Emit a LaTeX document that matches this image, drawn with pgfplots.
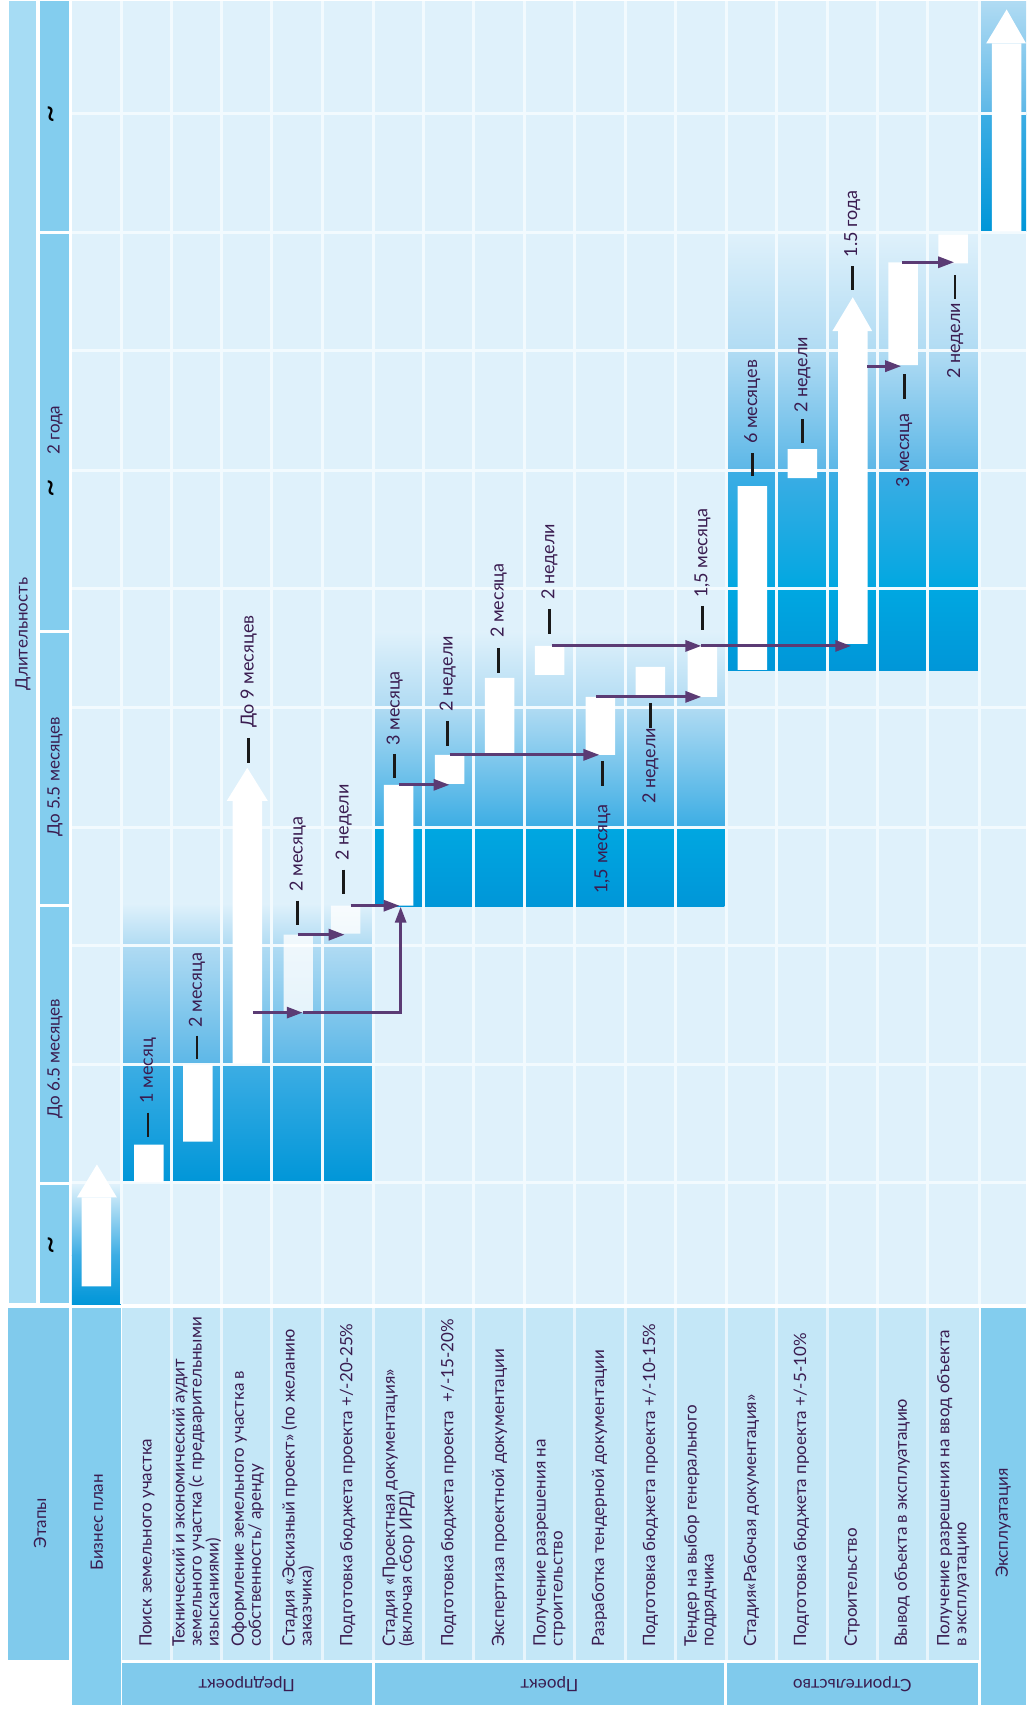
\documentclass[border=0pt]{standalone}
\usepackage{pgfplots}
\pgfplotsset{compat=1.18}
\usepackage{pgfplotstable}
\usepackage{fontspec}
\setmainfont{Lato}
\usetikzlibrary{arrows.meta}

\definecolor{gridbg}{RGB}{223,241,251}
\definecolor{gridln}{RGB}{242,250,254}
\definecolor{stripA}{RGB}{166,220,244}
\definecolor{stripB}{RGB}{131,205,238}
\definecolor{hdr}{RGB}{128,202,236}
\definecolor{stagecell}{RGB}{196,231,247}
\definecolor{dk}{RGB}{0,150,216}
\definecolor{dkm}{RGB}{0,167,225}
\definecolor{mdA}{RGB}{60,173,228}
\definecolor{mdB}{RGB}{92,183,231}
\definecolor{ltA}{RGB}{176,219,243}
\definecolor{txt}{RGB}{58,28,80}
\definecolor{arrc}{RGB}{91,59,116}

\pgfplotstableread{
x     top   hw   hs
96.5  1197  89   0
149   1144  38   0
198   1064  77   0
247.5 800   263  0
298.5 934   0    78
346   905   0    28
399   784   121  0
450   754   29   0
500   677   76   0
550   645   29   0
601   696   58   0
651   666   28   0
703   645   51   0
753   485   184  0
803   448   29   0
853.5 330   313  0
904   261   103  0
954   233   29   0
1007.5 42   188  0
}\bars

\pgfplotsset{base/.style={width=1027pt,height=1711pt,scale only axis,
  xmin=0,xmax=1027,ymin=0,ymax=1711,y dir=reverse,
  axis lines=none,ticks=none,clip=false,enlargelimits=false},
  flow/.style={color=arrc,line width=3pt,mark=none,solid,-{Triangle[length=16pt,width=11pt]}}}

\newcommand{\rect}[5]{\fill[#5] (axis cs:#1,#2) rectangle (axis cs:#3,#4);}
\newcommand{\grad}[6]{\shade[top color=#5,bottom color=#6] (axis cs:#1,#2) rectangle (axis cs:#3,#4);}
\newcommand{\gradm}[7]{\shade[top color=#5,middle color=#6,bottom color=#7] (axis cs:#1,#2) rectangle (axis cs:#3,#4);}
\newcommand{\stage}[2]{\node[rotate=90,anchor=west,align=left,inner sep=0pt,text=txt,
  font=\fontsize{17}{17}\selectfont] at (axis cs:#1,1647) {#2};}
\newcommand{\dur}[3]{\node[rotate=90,anchor=west,inner sep=0pt,text=txt,
  font=\fontsize{18}{20}\selectfont] at (axis cs:#1,#2) {#3};}
\newcommand{\dash}[3]{\draw[black!90,line width=2.6pt] (axis cs:#1,#2) -- (axis cs:#1,#3);}
\newcommand{\tld}[2]{\node[rotate=90,inner sep=0pt,font=\fontsize{32}{32}\selectfont] at (axis cs:#1,#2) {\char`\~};}

\begin{document}
\begin{tikzpicture}
% ---------------- background layer
\begin{axis}[base]
\path (axis cs:0,0) rectangle (axis cs:1027,1711);
% grid background
\rect{72}{0}{1027}{1304}{gridbg}
% Business plan cell
\grad{72}{1184}{121}{1255}{gridbg}{mdA}
\gradm{72}{1255}{121}{1304}{mdA}{dkm}{dk}
% Predproekt block
\gradm{122}{1064}{373}{1182}{mdA}{dkm}{dk}
\grad{122}{945}{373}{1064}{ltA}{mdB}
\grad{122}{903}{373}{945}{gridbg}{ltA}
% Proekt block
\grad{375}{827}{725}{906}{dkm}{dk}
\grad{375}{707}{725}{827}{ltA}{mdA}
\grad{375}{631}{725}{707}{gridbg}{ltA}
% Stroitelstvo block
\grad{728}{589}{979}{670}{dkm}{dk}
\grad{728}{469}{979}{589}{mdA}{dkm}
\grad{728}{351}{979}{469}{ltA}{mdB}
\grad{728}{232}{979}{351}{gridbg}{ltA}
% Ekspluatacija block
\gradm{982}{113}{1027}{230}{mdA}{dkm}{dk}
\grad{982}{0}{1027}{113}{ltA}{mdB}
% grid lines
\foreach \gx in {122,172,222,272,323,374,424,474,525,575,626,676,727,777,828,878,928,980}{
  \edef\tmp{\noexpand\draw[gridln,line width=3pt] (axis cs:\gx,0) -- (axis cs:\gx,1304);}\tmp}
\foreach \gy in {112,231,349,469,588,707,827,945,1064,1182}{
  \edef\tmp{\noexpand\draw[gridln,line width=3pt] (axis cs:72,\gy) -- (axis cs:1027,\gy);}\tmp}
% left strips
\rect{9}{0}{36}{1303}{stripA}
\rect{40}{0}{69}{230}{stripB}
\rect{40}{233}{69}{629}{stripB}
\rect{40}{632}{69}{903}{stripB}
\rect{40}{906}{69}{1182}{stripB}
\rect{40}{1185}{69}{1303}{stripB}
\node[rotate=90,text=txt,inner sep=0pt,font=\fontsize{17}{17}\selectfont] at (axis cs:23,633) {Длительность};
\node[rotate=90,text=txt,inner sep=0pt,font=\fontsize{17}{17}\selectfont] at (axis cs:55,429) {2 года};
\node[rotate=90,text=txt,inner sep=0pt,font=\fontsize{17}{17}\selectfont] at (axis cs:55,776) {До 5.5 месяцев};
\node[rotate=90,text=txt,inner sep=0pt,font=\fontsize{17}{17}\selectfont] at (axis cs:55,1058) {До 6.5 месяцев};
\tld{54}{113}
\tld{54}{487}
\tld{54}{1245}
% header
\rect{8}{1308}{69}{1660}{hdr}
\rect{72}{1308}{121}{1705}{stripB}
\rect{122}{1308}{980}{1660}{stagecell}
\foreach \gx in {172,222,272,323,374,424,474,525,575,626,676,727,777,828,878,928}{
  \edef\tmp{\noexpand\draw[white!60!stagecell,line width=3pt] (axis cs:\gx,1308) -- (axis cs:\gx,1660);}\tmp}
\rect{122}{1663}{372}{1705}{hdr}
\rect{375}{1663}{725}{1705}{hdr}
\rect{728}{1663}{979}{1705}{hdr}
\rect{982}{1308}{1027}{1705}{stripB}
\node[rotate=90,text=txt,inner sep=0pt,font=\fontsize{17}{17}\selectfont] at (axis cs:40,1523) {Этапы};
\node[rotate=90,text=txt,inner sep=0pt,font=\fontsize{17}{17}\selectfont] at (axis cs:97,1522) {Бизнес план};
\node[rotate=90,text=txt,inner sep=0pt,font=\fontsize{17}{17}\selectfont] at (axis cs:1004,1523) {Эксплуатация};
\node[rotate=180,text=txt,inner sep=0pt,font=\fontsize{17}{17}\selectfont] at (axis cs:247,1684) {Предпроект};
\node[rotate=180,text=txt,inner sep=0pt,font=\fontsize{17}{17}\selectfont] at (axis cs:550,1684) {Проект};
\node[rotate=180,text=txt,inner sep=0pt,font=\fontsize{17}{17}\selectfont] at (axis cs:853,1684) {Строительство};
\stage{147}{Поиск земельного участка}
\stage{197}{Технический и экономический аудит\\земельного участка (с предварительными\\изысканиями)}
\stage{248}{Оформление земельного участка в\\собственность/ аренду}
\stage{298}{Стадия «Эскизный проект» (по желанию\\заказчика)}
\stage{348}{Подготовка бюджета проекта +/-20-25\%}
\stage{399}{Стадия «Проектная документация»\\(включая сбор ИРД)}
\stage{449}{Подготовка бюджета проекта \ +/-15-20\%}
\stage{500}{Экспертиза проектной документации}
\stage{550}{Получение разрешения на\\строительство}
\stage{600}{Разработка тендерной документации}
\stage{651}{Подготовка бюджета проекта +/-10-15\%}
\stage{701}{Тендер на выбор генерального\\подрядчика}
\stage{752}{Стадия«Рабочая документация»}
\stage{802}{Подготовка бюджета проекта +/-5-10\%}
\stage{853}{Строительство}
\stage{903}{Вывод объекта в эксплуатацию}
\stage{954}{Получение разрешения на ввод объекта\\в эксплуатацию}
\end{axis}
% ---------------- bars layer
\begin{axis}[base, ybar stacked, bar width=29.5]
\addplot[draw=none,fill=none] table[x=x,y=top]{\bars};
\addplot[draw=none,fill=white] table[x=x,y=hw]{\bars};
\addplot[draw=none,fill=white,fill opacity=0.8] table[x=x,y=hs]{\bars};
\end{axis}
% ---------------- arrows and labels layer
\begin{axis}[base]
% white arrow heads
\addplot[draw=none,fill=white,mark=none] coordinates {(77,1197) (117,1197) (97,1164)};
\addplot[draw=none,fill=white,mark=none] coordinates {(227,800) (268,800) (247.5,767)};
\addplot[draw=none,fill=white,mark=none] coordinates {(833,330) (873,330) (853.5,296)};
\addplot[draw=none,fill=white,mark=none] coordinates {(987,42) (1027,42) (1007.5,8)};
% purple flow arrows
\addplot[flow] coordinates {(253,1012) (303,1012)};
\addplot[flow] coordinates {(303,1012) (401,1012) (401,906)};
\addplot[flow] coordinates {(298,934) (345,934)};
\addplot[flow] coordinates {(351,905) (400,905)};
\addplot[flow] coordinates {(399,784) (450,784)};
\addplot[flow] coordinates {(450,754) (600,754)};
\addplot[flow] coordinates {(552,645) (702,645)};
\addplot[flow] coordinates {(702,645) (852,645)};
\addplot[flow] coordinates {(597,696) (702,696)};
\addplot[flow] coordinates {(868,365) (902,365)};
\addplot[flow] coordinates {(903,261) (955,261)};
% duration labels
\dash{148}{1112}{1136} \dur{148}{1103}{1 месяц}
\dash{197}{1035}{1058} \dur{197}{1027}{2 месяца}
\dash{249}{737}{762}   \dur{249}{727}{До 9 месяцев}
\dash{298}{900}{924}   \dur{298}{891}{2 месяца}
\dash{344}{869}{893}   \dur{344}{860}{2 недели}
\dash{395}{753}{777}   \dur{395}{745}{3 месяца}
\dash{448}{720}{745}   \dur{448}{711}{2 недели}
\dash{499}{647}{672}   \dur{499}{637}{2 месяца}
\dash{550}{608}{633}   \dur{550}{599}{2 недели}
\dash{603}{760}{785}   \dur{603}{893}{1,5 месяца}
\dash{651}{702}{727}   \dur{651}{803}{2 недели}
\dash{703}{605}{629}   \dur{703}{597}{1,5 месяца}
\dash{753}{452}{475}   \dur{753}{443}{6 месяцев}
\dash{803}{418}{442}   \dur{803}{412}{2 недели}
\dash{853}{265}{289}   \dur{853}{256}{1.5 года}
\dash{905}{373}{398}   \dur{905}{487}{3 месяца}
\dash{956}{274}{298}   \dur{956}{378}{2 недели}
\end{axis}
\end{tikzpicture}
\end{document}
